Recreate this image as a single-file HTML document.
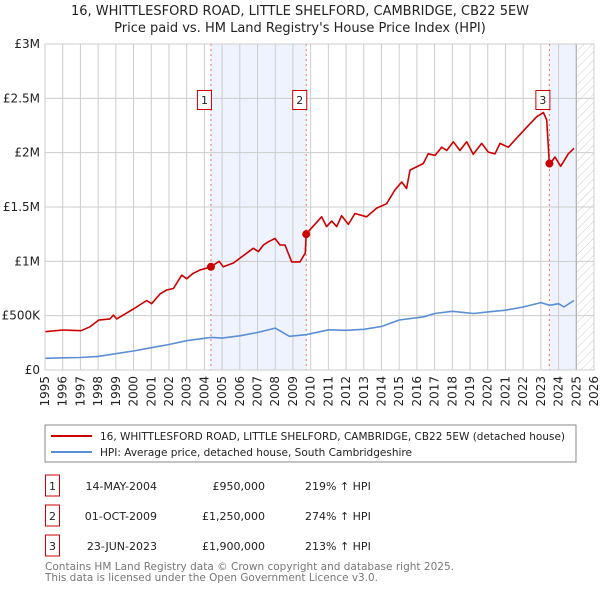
<!DOCTYPE html>
<html><head><meta charset="utf-8"><style>
body{margin:0;background:#fff;font-family:"Liberation Sans","DejaVu Sans",sans-serif;}
svg text{font-family:"DejaVu Sans","Liberation Sans",sans-serif;}
</style></head><body>
<svg id="c" width="600" height="590" xmlns="http://www.w3.org/2000/svg">
<defs><pattern id="hatch" width="6" height="6" patternUnits="userSpaceOnUse" patternTransform="rotate(45)"><line x1="0" y1="0" x2="0" y2="6" stroke="#ccc" stroke-width="1"/></pattern></defs>
<text x="300" y="15" text-anchor="middle" font-size="13" fill="#222">16, WHITTLESFORD ROAD, LITTLE SHELFORD, CAMBRIDGE, CB22 5EW</text>
<text x="300" y="32" text-anchor="middle" font-size="13" fill="#222">Price paid vs. HM Land Registry's House Price Index (HPI)</text>
<g id="plot"></g>
<rect x="45" y="425" width="531" height="37" fill="#fff" stroke="#888"/>
<line x1="51" y1="436" x2="92" y2="436" stroke="#cc0000" stroke-width="2"/>
<text x="100" y="440" font-size="11" textLength="465" lengthAdjust="spacingAndGlyphs" fill="#222">16, WHITTLESFORD ROAD, LITTLE SHELFORD, CAMBRIDGE, CB22 5EW (detached house)</text>
<line x1="51" y1="452" x2="92" y2="452" stroke="#5b8fd4" stroke-width="2"/>
<text x="100" y="456" font-size="11" textLength="312" lengthAdjust="spacingAndGlyphs" fill="#222">HPI: Average price, detached house, South Cambridgeshire</text>
<g font-size="11" fill="#222">
<rect x="45.5" y="475" width="14" height="21" fill="#fff" stroke="#cc0000"/><text x="52.5" y="490" text-anchor="middle">1</text>
<text x="157" y="490" text-anchor="end">14-MAY-2004</text><text x="265" y="490" text-anchor="end">£950,000</text><text x="305" y="490">219% ↑ HPI</text>
<rect x="45.5" y="505" width="14" height="21" fill="#fff" stroke="#cc0000"/><text x="52.5" y="520" text-anchor="middle">2</text>
<text x="157" y="520" text-anchor="end">01-OCT-2009</text><text x="265" y="520" text-anchor="end">£1,250,000</text><text x="305" y="520">274% ↑ HPI</text>
<rect x="45.5" y="535" width="14" height="21" fill="#fff" stroke="#cc0000"/><text x="52.5" y="550" text-anchor="middle">3</text>
<text x="157" y="550" text-anchor="end">23-JUN-2023</text><text x="265" y="550" text-anchor="end">£1,900,000</text><text x="305" y="550">213% ↑ HPI</text>
</g>
<text x="45" y="570" font-size="11" textLength="409" lengthAdjust="spacingAndGlyphs" fill="#777">Contains HM Land Registry data © Crown copyright and database right 2025.</text>
<text x="45" y="581" font-size="11" textLength="333" lengthAdjust="spacingAndGlyphs" fill="#777">This data is licensed under the Open Government Licence v3.0.</text>
</svg>
<script>
const redYears=[1995.0,1996.03,1997.03,1997.54,1998.03,1998.67,1998.86,1999.05,1999.99,2000.74,2001.02,2001.5,2001.87,2002.25,2002.72,2003.0,2003.37,2003.75,2004.37,2004.83,2005.07,2005.64,2006.01,2006.76,2007.05,2007.33,2007.61,2007.99,2008.27,2008.55,2008.93,2009.4,2009.7,2009.75,2009.96,2010.62,2010.9,2011.19,2011.47,2011.75,2012.13,2012.5,2013.16,2013.73,2014.29,2014.76,2015.14,2015.42,2015.61,2016.36,2016.64,2017.02,2017.4,2017.68,2018.06,2018.43,2018.81,2019.18,2019.66,2020.03,2020.41,2020.69,2021.16,2022.01,2022.76,2023.14,2023.33,2023.48,2023.8,2024.12,2024.55,2024.87];
const redValues=[352,368,362,398,459,470,505,470,561,640,610,700,736,750,872,840,890,920,950,1000,950,985,1030,1120,1090,1150,1180,1210,1150,1150,995,995,1077,1250,1290,1410,1320,1370,1320,1420,1340,1440,1410,1490,1530,1656,1730,1670,1840,1900,1990,1975,2050,2020,2100,2020,2100,1985,2085,2005,1990,2085,2050,2200,2330,2370,2300,1890,1960,1875,1990,2040];
const hpiYears=[1995,1996,1997,1998,1999,2000,2001,2002,2003,2004.37,2005,2006,2007,2008,2008.8,2009.75,2011,2012,2013,2014,2015,2016.4,2017,2018,2019.2,2020,2021,2022,2023,2023.5,2024,2024.3,2024.87];
const hpiValues=[108,112,115,125,150,175,205,235,270,300,294,315,345,386,310,325,370,365,375,400,460,490,520,540,520,535,550,580,620,595,610,580,640];
const saleYears=[2004.37,2009.75,2023.48];
const saleValues=[950,1250,1900];
const saleLabels=["1","2","3"];
const yTicks=[0,500,1000,1500,2000,2500,3000];
const yTickLabels=["£0","£500K","£1M","£1.5M","£2M","£2.5M","£3M"];
const xTicks=[1995,1996,1997,1998,1999,2000,2001,2002,2003,2004,2005,2006,2007,2008,2009,2010,2011,2012,2013,2014,2015,2016,2017,2018,2019,2020,2021,2022,2023,2024,2025,2026];
const dataEnd=2025.0;

const X0=45,X1=594,Y0=370,Y1=44;
const sx=y=>X0+(y-1995)/(2026-1995)*(X1-X0);
const sy=v=>Y0-v/3000*(Y0-Y1);
const NS="http://www.w3.org/2000/svg";
const g=document.getElementById('plot');
function mk(t,a,parent){const e=document.createElementNS(NS,t);for(const k in a)e.setAttribute(k,a[k]);(parent||g).appendChild(e);return e;}

let e=mk('rect',{x:sx(saleYears[0]),y:Y1,width:sx(saleYears[1])-sx(saleYears[0]),height:Y0-Y1,fill:'#eef3fd'});


e=mk('rect',{x:sx(saleYears[2]),y:Y1,width:sx(dataEnd)-sx(saleYears[2]),height:Y0-Y1,fill:'#eef3fd'});


e=mk('rect',{x:sx(dataEnd),y:Y1,width:X1-sx(dataEnd),height:Y0-Y1,fill:'url(#hatch)'});



xTicks.forEach(t=>{
 const l=mk('line',{x1:sx(t),x2:sx(t),y1:Y1,y2:Y0,stroke:'#ccc','stroke-width':1});
 
 
 const x=sx(t)+4;
 const gg=mk('g',{transform:'translate('+x+',376) rotate(-90)'});
 const tx=mk('text',{x:0,y:0,'text-anchor':'end','font-size':12,fill:'#222'},gg);
 tx.textContent=t;
 
 
});
yTicks.forEach((t,i)=>{
 const l=mk('line',{x1:X0,x2:X1,y1:sy(t),y2:sy(t),stroke:'#ccc','stroke-width':1});
 
 
 const tx=mk('text',{x:40,y:sy(t)+4,'text-anchor':'end','font-size':12,fill:'#222'});
 tx.textContent=yTickLabels[i];
 
 
});
e=mk('line',{x1:sx(dataEnd),x2:sx(dataEnd),y1:Y1,y2:Y0,stroke:'#aaa','stroke-width':1});



saleYears.forEach((s,i)=>{
 const l=mk('line',{x1:sx(s),x2:sx(s),y1:Y1,y2:Y0,stroke:'#f07070','stroke-width':1,'stroke-dasharray':'2,3'});
 
 
});

function line(xs,vs,col,name){
 const p=mk('polyline',{points:xs.map((y,i)=>sx(y).toFixed(1)+','+sy(vs[i]).toFixed(1)).join(' '),fill:'none',stroke:col,'stroke-width':1.6,'stroke-linejoin':'round'});
 
 
}
line(hpiYears,hpiValues,'#5b8fd4','hpi-line');
line(redYears,redValues,'#cc0000','property-price-line');

saleYears.forEach((s,i)=>{
 const c=mk('circle',{cx:sx(s),cy:sy(saleValues[i]),r:4,fill:'#cc0000'});
 
 
 const bx=sx(s)-10;
 const r=mk('rect',{x:bx+0.5-4,y:90.5,width:14,height:19,fill:'#fff',stroke:'#cc0000'});
 
 
 const t=mk('text',{x:bx+3.5,y:104,'text-anchor':'middle','font-size':11,fill:'#222'});
 t.textContent=saleLabels[i];
 
 
});
e=mk('rect',{x:X0,y:Y1,width:X1-X0,height:Y0-Y1,fill:'none',stroke:'#ccc'});


</script>
</body></html>
